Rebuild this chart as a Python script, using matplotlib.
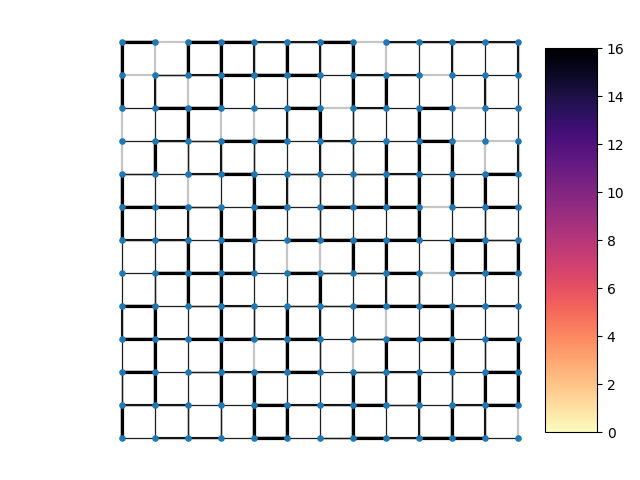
import numpy as np
import matplotlib
matplotlib.use('Agg')
import matplotlib.pyplot as plt
from matplotlib.collections import LineCollection
from matplotlib.colors import Normalize
from matplotlib.cm import ScalarMappable

N = 13

# edge level: 0 light grey, 1 thin dark, 2 thin dark on grey, 3 medium black, 4 thick black
# h_levels[r][c]: edge (r,c)-(r,c+1), row 0 at top
h_levels = [
    [4, 0, 4, 4, 3, 3, 4, 0, 3, 3, 3, 3],
    [0, 2, 3, 4, 4, 4, 1, 3, 3, 0, 1, 1],
    [1, 4, 4, 1, 1, 4, 0, 3, 1, 4, 0, 1],
    [1, 3, 2, 4, 4, 1, 3, 1, 1, 4, 0, 0],
    [2, 1, 3, 4, 1, 2, 1, 2, 3, 1, 1, 4],
    [4, 4, 2, 1, 4, 1, 4, 4, 4, 0, 1, 4],
    [3, 3, 1, 4, 1, 4, 4, 4, 4, 1, 4, 2],
    [1, 4, 4, 4, 1, 4, 2, 2, 4, 0, 3, 4],
    [4, 1, 2, 3, 1, 2, 2, 4, 4, 4, 3, 3],
    [4, 3, 4, 4, 3, 4, 1, 2, 4, 4, 1, 4],
    [4, 1, 2, 3, 3, 4, 1, 2, 3, 1, 1, 4],
    [3, 3, 1, 1, 4, 3, 3, 4, 2, 1, 3, 4],
    [1, 3, 3, 1, 4, 1, 2, 4, 3, 4, 4, 1],
]
# v_levels[r][c]: edge (r,c)-(r+1,c)
v_levels = [
    [4, 0, 4, 4, 3, 4, 3, 4, 0, 1, 3, 1, 3],
    [4, 3, 0, 4, 1, 1, 1, 4, 4, 1, 1, 3, 1],
    [0, 1, 4, 0, 0, 3, 4, 2, 1, 4, 1, 1, 1],
    [0, 4, 2, 3, 2, 1, 3, 2, 4, 4, 4, 0, 3],
    [4, 1, 0, 1, 4, 3, 2, 2, 4, 4, 4, 4, 1],
    [4, 1, 3, 4, 4, 1, 2, 1, 1, 4, 1, 2, 1],
    [1, 1, 4, 4, 3, 0, 0, 4, 4, 1, 4, 4, 4],
    [1, 2, 4, 4, 1, 1, 4, 1, 3, 2, 1, 1, 1],
    [3, 4, 1, 4, 2, 4, 3, 1, 0, 1, 4, 1, 1],
    [1, 4, 1, 4, 0, 4, 2, 0, 4, 1, 4, 2, 4],
    [2, 4, 1, 4, 4, 1, 1, 4, 3, 4, 2, 4, 4],
    [4, 1, 2, 2, 4, 4, 1, 4, 1, 3, 4, 3, 0],
]

# (halo colour, halo width, line colour, line width)
styles = {
    0: ('#c6c6c6', 1.6, None, 0),
    1: (None, 0, '#1e1e1e', 0.9),
    2: ('#cccccc', 2.0, '#1e1e1e', 0.9),
    3: ('#cccccc', 2.2, '#151515', 1.5),
    4: ('#cccccc', 2.8, '#000000', 2.3),
}

segs = {k: [] for k in styles}
for r, row in enumerate(h_levels):
    for c, lvl in enumerate(row):
        segs[lvl].append([(c, N - 1 - r), (c + 1, N - 1 - r)])
for r, row in enumerate(v_levels):
    for c, lvl in enumerate(row):
        segs[lvl].append([(c, N - 1 - r), (c, N - 2 - r)])

fig = plt.figure(figsize=(6.4, 4.8), dpi=100)
ax = fig.add_axes([105.5 / 640, 25.5 / 480, 429 / 640, 429 / 480])

# grey underlays first, then the dark lines
for lvl in [0, 2, 3, 4]:
    hc, hw, lc, lw = styles[lvl]
    if hc and segs[lvl]:
        ax.add_collection(LineCollection(segs[lvl], colors=hc, linewidths=hw, zorder=1))
for lvl in [1, 2, 3, 4]:
    hc, hw, lc, lw = styles[lvl]
    if lc and segs[lvl]:
        ax.add_collection(LineCollection(segs[lvl], colors=lc, linewidths=lw, zorder=2))

xs, ys = np.meshgrid(np.arange(N), np.arange(N))
ax.scatter(xs.ravel(), ys.ravel(), s=14, c='#1f78b4', zorder=3, clip_on=False)
ax.set_xlim(-0.5, N - 0.5)
ax.set_ylim(-0.5, N - 0.5)
ax.axis('off')

cax = fig.add_axes([545 / 640, 48 / 480, 52 / 640, 384 / 480])
sm = ScalarMappable(norm=Normalize(vmin=0, vmax=16), cmap='magma_r')
fig.colorbar(sm, cax=cax)

fig.savefig('out.png', dpi=100)
